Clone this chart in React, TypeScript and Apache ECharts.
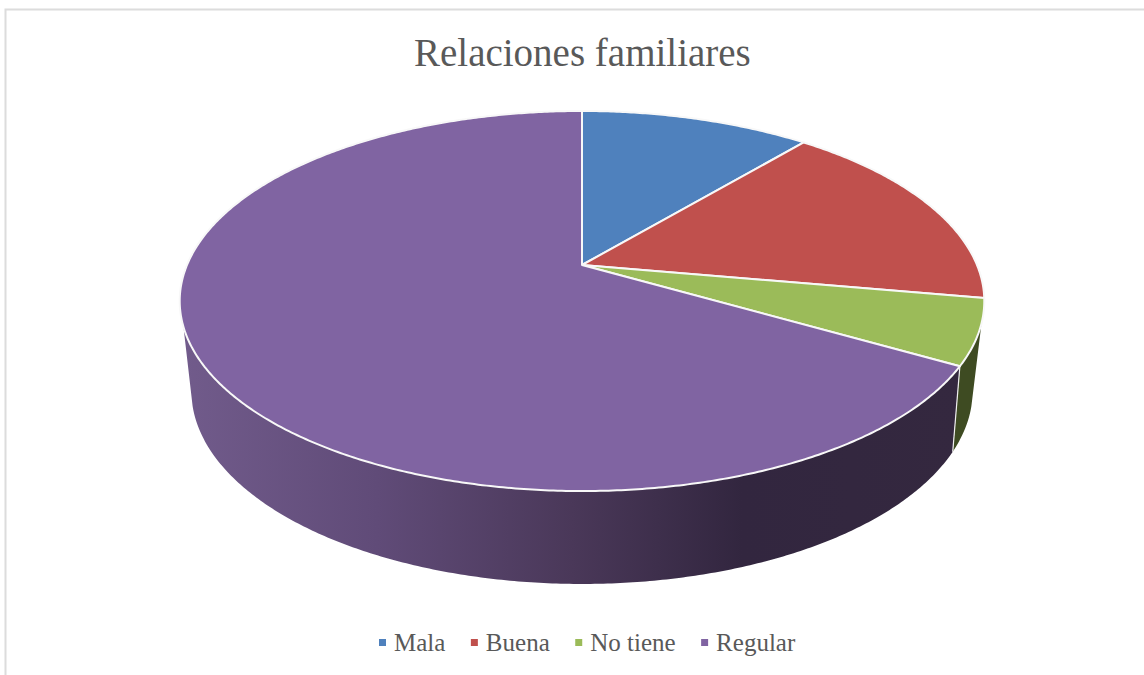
import React, { useEffect, useRef } from "react";
import * as echarts from "echarts";

const titleText = "Relaciones familiares";
const categories = ["Mala", "Buena", "No tiene", "Regular"];
const values = [2, 3, 1, 12];
const topColors = ["#4f81bd", "#c0504d", "#9bbb59", "#8064a2"];
const sideGreen = "#3e4b22";
const sideStops = [
  { offset: 0, color: "#715b8b" },
  { offset: 0.25, color: "#604b78" },
  { offset: 0.5, color: "#4a3859" },
  { offset: 0.72, color: "#32263f" },
  { offset: 1, color: "#34283f" },
];

// Perspective projection of the pie's unit disc onto the page
const topDisc = { x0: 582, R: 395, a: 133, b: 265, c: -0.1895 };
const bottomDisc = { x0: 582, R: 381, a: 107, b: 348.5, c: -0.22 };
const total = values.reduce((s, v) => s + v, 0);
const TAU = Math.PI * 2;
// Fractions of a full turn where the side wall meets the silhouette
const topRight = 107.4 / 360;
const topLeft = 251.5 / 360;
const bottomRight = 107 / 360;
const bottomLeft = 253 / 360;

function project(disc: typeof topDisc, frac: number, r = 1): number[] {
  const u = r * Math.sin(frac * TAU);
  const v = -r * Math.cos(frac * TAU);
  const w = disc.c * v + 1;
  return [disc.x0 + (disc.R * u) / w, (disc.a * v + disc.b) / w];
}

function arc(disc: typeof topDisc, from: number, to: number): number[][] {
  const n = Math.max(2, Math.ceil((to - from) * 720));
  const pts: number[][] = [];
  for (let i = 0; i <= n; i++) pts.push(project(disc, from + ((to - from) * i) / n));
  return pts;
}

function makeRenderItem(index: number) {
  return (_params: any, api: any) => {
    const from = api.value(0) / total;
    const to = api.value(1) / total;
    const children: any[] = [];
    const tFrom = Math.max(from, topRight);
    const tTo = Math.min(to, topLeft);
    if (tTo > tFrom) {
      const bFrom = Math.max(from, bottomRight);
      const bTo = Math.min(to, bottomLeft);
      const isPurple = index === 3;
      children.push({
        type: "polygon",
        shape: { points: [...arc(topDisc, tFrom, tTo), ...arc(bottomDisc, bFrom, bTo).reverse()] },
        style: {
          fill: isPurple ? new echarts.graphic.LinearGradient(0, 0, 1, 0, sideStops) : sideGreen,
        },
      });
      if (isPurple) {
        const t = project(topDisc, from);
        const b = project(bottomDisc, from);
        children.push({
          type: "line",
          shape: { x1: t[0], y1: t[1], x2: b[0], y2: b[1] },
          style: { stroke: "#f0f0f0", lineWidth: 1.2 },
        });
      }
    }
    children.push({
      type: "polygon",
      shape: { points: [project(topDisc, 0, 0), ...arc(topDisc, from, to)] },
      style: { fill: topColors[index], stroke: "#f8f8f8", lineWidth: 2, lineJoin: "round" },
    });
    return { type: "group", children };
  };
}

export default function App() {
  const ref = useRef<HTMLDivElement>(null);
  useEffect(() => {
    const chart = echarts.init(ref.current!, undefined, { renderer: "svg" });
    let acc = 0;
    const series = categories.map((name, i) => {
      const start = acc;
      acc += values[i];
      return {
        type: "custom",
        name,
        coordinateSystem: "none",
        silent: true,
        itemStyle: { color: topColors[i] },
        renderItem: makeRenderItem(i),
        data: [[start, acc]],
      };
    });
    chart.setOption({
      animation: false,
      backgroundColor: "#ffffff",
      title: {
        text: titleText,
        left: 414,
        top: 33,
        padding: 0,
        textStyle: {
          color: "#595959",
          fontFamily: "Liberation Serif",
          fontWeight: "normal",
          fontSize: 39,
        },
      },
      legend: {
        left: 379,
        top: 630,
        padding: 0,
        icon: "rect",
        itemWidth: 7,
        itemHeight: 7,
        itemGap: 25.5,
        data: categories,
        selectedMode: false,
        textStyle: {
          color: "#595959",
          fontFamily: "Liberation Serif",
          fontSize: 25,
          padding: [0, 0, 0, 3],
        },
      },
      graphic: [
        {
          type: "polyline",
          silent: true,
          shape: { points: [[5.5, 675], [5.5, 9.5], [1144, 9.5]] },
          style: { stroke: "#dcdcdc", lineWidth: 2, fill: "none" },
        },
      ],
      series,
    });
    return () => chart.dispose();
  }, []);
  return <div ref={ref} style={{ position: "fixed", left: 0, top: 0, width: 1144, height: 675 }} />;
}
